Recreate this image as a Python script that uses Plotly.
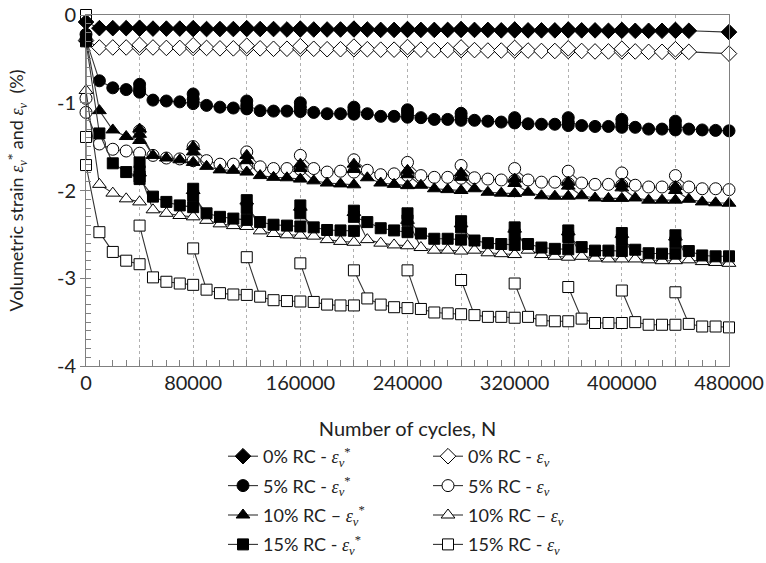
import plotly.graph_objects as go

# ---------------- data ----------------
# loading stages (start cycle of each 40000-cycle stage)
STAGE_START = [0, 40000, 80000, 120000, 160000, 200000, 240000,
               280000, 320000, 360000, 400000, 440000]
# readings inside each stage (cycles after stage start)
OFFSETS = [10000, 20000, 30000, 40000]
# Each stage list: values at the stage start (one or more), then the values at OFFSETS.
# None = no reading.

RC0_STAR = [
    [-0.08, -0.15, -0.15, -0.15, -0.155],
    [-0.145, -0.155, -0.155, -0.155, -0.16],
    [-0.15, -0.16, -0.16, -0.16, -0.16],
    [-0.15, -0.16, -0.16, -0.165, -0.165],
    [-0.155, -0.165, -0.165, -0.165, -0.165],
    [-0.155, -0.165, -0.17, -0.17, -0.17],
    [-0.16, -0.17, -0.17, -0.17, -0.17],
    [-0.16, -0.17, -0.17, -0.175, -0.175],
    [-0.165, -0.175, -0.175, -0.175, -0.175],
    [-0.165, -0.175, -0.175, -0.18, -0.18],
    [-0.17, -0.18, -0.18, -0.18, -0.18],
    [-0.17, -0.18, None, None, -0.195],
]
RC0_EV = [
    [-0.29, -0.37, -0.37, -0.37, -0.37],
    [-0.34, -0.37, -0.375, -0.375, -0.375],
    [-0.345, -0.375, -0.38, -0.38, -0.38],
    [-0.35, -0.38, -0.385, -0.385, -0.385],
    [-0.355, -0.385, -0.39, -0.39, -0.39],
    [-0.36, -0.39, -0.395, -0.395, -0.395],
    [-0.365, -0.395, -0.40, -0.40, -0.40],
    [-0.37, -0.40, -0.405, -0.405, -0.405],
    [-0.375, -0.405, -0.41, -0.41, -0.41],
    [-0.38, -0.41, -0.415, -0.415, -0.415],
    [-0.385, -0.415, -0.42, -0.42, -0.42],
    [-0.39, -0.42, None, None, -0.44],
]
RC5_STAR = [
    [-0.22, -0.28, -0.75, -0.83, -0.85, -0.88],
    [-0.79, -0.84, -0.97, -0.98, -0.99, -1.01],
    [-0.90, -0.96, -1.03, -1.05, -1.06, -1.07],
    [-0.98, -1.03, -1.09, -1.095, -1.095, -1.10],
    [-1.00, -1.05, -1.11, -1.125, -1.125, -1.13],
    [-1.05, -1.09, -1.125, -1.155, -1.155, -1.165],
    [-1.08, -1.12, -1.17, -1.19, -1.19, -1.20],
    [-1.12, -1.16, -1.20, -1.21, -1.22, -1.23],
    [-1.17, -1.21, -1.24, -1.245, -1.245, -1.26],
    [-1.17, -1.22, -1.26, -1.27, -1.27, -1.28],
    [-1.19, -1.24, -1.28, -1.30, -1.30, -1.31],
    [-1.21, -1.26, -1.30, -1.31, -1.315, -1.32],
]
RC5_EV = [
    [-0.95, -1.11, -1.47, -1.53, -1.55, -1.575],
    [-1.32, -1.60, -1.63, -1.64, -1.66],
    [-1.50, -1.66, -1.70, -1.70, -1.715],
    [-1.56, -1.73, -1.75, -1.75, -1.76],
    [-1.60, -1.75, -1.79, -1.78, -1.79],
    [-1.65, -1.77, -1.82, -1.81, -1.83],
    [-1.68, -1.83, -1.85, -1.85, -1.86],
    [-1.715, -1.855, -1.87, -1.88, -1.885],
    [-1.75, -1.88, -1.905, -1.905, -1.92],
    [-1.78, -1.915, -1.93, -1.93, -1.94],
    [-1.80, -1.94, -1.96, -1.96, -1.965],
    [-1.83, -1.96, -1.98, -1.98, -1.99],
]
RC10_STAR = [
    [-0.27, -1.09, -1.31, -1.385, -1.43],
    [-1.30, -1.36, -1.60, -1.63, -1.65, -1.68],
    [-1.50, -1.56, -1.725, -1.765, -1.77, -1.79],
    [-1.60, -1.66, -1.83, -1.85, -1.855, -1.87],
    [-1.70, -1.75, -1.89, -1.915, -1.925, -1.935],
    [-1.70, -1.76, -1.855, -1.915, -1.93, -1.945],
    [-1.77, -1.82, -1.94, -1.98, -1.99, -2.00],
    [-1.80, -1.85, -1.98, -2.02, -2.03, -2.035],
    [-1.87, -1.92, -2.02, -2.06, -2.065, -2.065],
    [-1.905, -1.95, -2.06, -2.085, -2.09, -2.09],
    [-1.925, -1.97, -2.085, -2.11, -2.11, -2.11],
    [-1.955, -2.00, -2.10, -2.13, -2.14, -2.145],
]
RC10_EV = [
    [-0.86, -1.93, -2.03, -2.095, -2.13],
    [-1.80, -2.22, -2.26, -2.285, -2.30],
    [-2.00, -2.34, -2.38, -2.40, -2.41],
    [-2.12, -2.46, -2.49, -2.505, -2.51],
    [-2.19, -2.52, -2.56, -2.58, -2.59],
    [-2.25, -2.56, -2.60, -2.62, -2.63],
    [-2.34, -2.65, -2.68, -2.68, -2.69],
    [-2.38, -2.68, -2.71, -2.72, -2.73],
    [-2.44, -2.68, -2.73, -2.75, -2.76],
    [-2.47, -2.75, -2.77, -2.78, -2.78],
    [-2.50, -2.78, -2.79, -2.80, -2.80],
    [-2.53, -2.79, -2.81, -2.82, -2.83],
]
RC15_STAR = [
    [-0.30, -1.35, -1.69, -1.79, -1.84],
    [-1.68, -1.78, -1.87, -2.07, -2.13, -2.17, -2.19],
    [-1.98, -2.06, -2.26, -2.30, -2.32, -2.335],
    [-2.11, -2.20, -2.36, -2.39, -2.40, -2.41],
    [-2.17, -2.26, -2.42, -2.45, -2.455, -2.46],
    [-2.23, -2.30, -2.36, -2.43, -2.455, -2.475],
    [-2.26, -2.34, -2.49, -2.55, -2.55, -2.56],
    [-2.35, -2.42, -2.57, -2.60, -2.61, -2.62],
    [-2.42, -2.50, -2.61, -2.65, -2.665, -2.67],
    [-2.455, -2.53, -2.645, -2.685, -2.685, -2.69],
    [-2.485, -2.56, -2.675, -2.715, -2.72, -2.72],
    [-2.51, -2.59, -2.69, -2.74, -2.75, -2.75],
]
RC15_EV = [
    [0.0, -1.39, -1.71, -2.475, -2.70, -2.80, -2.84],
    [-2.40, -2.99, -3.04, -3.06, -3.075],
    [-2.66, -3.13, -3.17, -3.185, -3.19],
    [-2.76, -3.21, -3.25, -3.26, -3.265],
    [-2.83, -3.27, -3.30, -3.31, -3.31],
    [-2.91, -3.23, -3.30, -3.33, -3.34],
    [-2.91, -3.35, -3.39, -3.40, -3.41],
    [-3.02, -3.42, -3.44, -3.44, -3.45],
    [-3.06, -3.44, -3.48, -3.49, -3.49],
    [-3.10, -3.46, -3.51, -3.51, -3.51],
    [-3.14, -3.50, -3.53, -3.53, -3.53],
    [-3.16, -3.52, -3.55, -3.55, -3.56],
]

X_TICKS = [0, 40000, 80000, 120000, 160000, 200000, 240000,
           280000, 320000, 360000, 400000, 440000, 480000]
X_TICK_TEXT = ["0", "", "80000", "", "160000", "", "240000",
               "", "320000", "", "400000", "", "480000"]
Y_TICKS = [0, -1, -2, -3, -4]
Y_TICK_TEXT = ["0", "-1", "-2", "-3", "-4"]

EPS = "<span style=\"font-family:'Liberation Serif'\"><i>ε<sub>v</sub></i></span>"
EPS_STAR = "<span style=\"font-family:'Liberation Serif'\"><i>ε<sub>v</sub></i><sup>*</sup></span>"

# drawing order: open (ε_v) series first, filled (ε_v*) series on top
SERIES = [
    # name, data, symbol, filled, legend, rank
    ("0% RC - " + EPS, RC0_EV, "diamond", False, "legend2", 1),
    ("5% RC - " + EPS, RC5_EV, "circle", False, "legend2", 2),
    ("10% RC – " + EPS, RC10_EV, "triangle-up", False, "legend2", 3),
    ("15% RC - " + EPS, RC15_EV, "square", False, "legend2", 4),
    ("0% RC - " + EPS_STAR, RC0_STAR, "diamond", True, "legend", 1),
    ("5% RC - " + EPS_STAR, RC5_STAR, "circle", True, "legend", 2),
    ("10% RC – " + EPS_STAR, RC10_STAR, "triangle-up", True, "legend", 3),
    ("15% RC - " + EPS_STAR, RC15_STAR, "square", True, "legend", 4),
]

SIZES = {"diamond": 12, "circle": 12, "triangle-up": 12, "square": 11}


def build(stages):
    xs, ys = [], []
    for start, vals in zip(STAGE_START, stages):
        ncl = len(vals) - len(OFFSETS)
        pts = [(start, v) for v in vals[:ncl]]
        pts += [(start + o, v) for o, v in zip(OFFSETS, vals[ncl:])]
        for x, y in pts:
            if y is not None:
                xs.append(x)
                ys.append(y)
        xs.append(None)
        ys.append(None)
    return xs, ys


fig = go.Figure()
for i, (name, data, sym, filled, leg, rank) in enumerate(SERIES):
    xs, ys = build(data)
    fig.add_trace(go.Scatter(
        x=xs, y=ys, name=name, mode="lines+markers",
        line=dict(color="#333333", width=1.1),
        marker=dict(symbol=sym, size=SIZES[sym],
                    color="#000000" if filled else "#ffffff",
                    line=dict(color="#000000", width=1)),
        cliponaxis=False, legend=leg, legendrank=rank,
        legendgroup="g%d" % i,
    ))

FONT = "Lato, 'DejaVu Sans', sans-serif"
AX = "#808080"

# paper spans the whole height below the top margin; the plot sits in the upper part
PLOT_DOMAIN_Y = [(563 - 366) / 548, 1]

LEG = dict(y=0, xanchor="left", yanchor="bottom", bgcolor="rgba(0,0,0,0)",
           traceorder="grouped", tracegroupgap=3, font=dict(size=18))

fig.update_layout(
    width=766, height=563,
    margin=dict(l=86, r=37, t=15, b=0),
    paper_bgcolor="white", plot_bgcolor="white",
    font=dict(family=FONT, size=19, color="#222222"),
    showlegend=True,
    legend=dict(LEG, x=(223 - 86) / 643),
    legend2=dict(LEG, x=(428 - 86) / 643),
    xaxis=dict(
        range=[0, 480000], tickvals=X_TICKS, ticktext=X_TICK_TEXT,
        automargin=False, ticklabelstandoff=-1,
        showgrid=True, gridcolor="#b0b0b0", griddash="dot", gridwidth=1,
        ticks="inside", ticklen=6, tickcolor=AX,
        minor=dict(dtick=10000, tick0=0, ticks="inside", ticklen=6,
                   tickcolor=AX, showgrid=False),
        showline=True, linecolor=AX, linewidth=1, mirror=True,
        zeroline=False,
        title=dict(text="Number of cycles, N", font=dict(size=20), standoff=28),
        tickfont=dict(size=20),
    ),
    yaxis=dict(
        domain=PLOT_DOMAIN_Y,
        range=[-4, 0], tickvals=Y_TICKS, ticktext=Y_TICK_TEXT,
        automargin=False,
        showgrid=False, ticks="outside", ticklen=5, tickcolor=AX,
        minor=dict(dtick=0.1, tick0=0, ticks="inside", ticklen=5,
                   tickcolor=AX, showgrid=False),
        showline=True, linecolor=AX, linewidth=1, mirror=True,
        zeroline=False,
        title=dict(text="Volumetric strain " + EPS_STAR + " and " + EPS + "  (%)",
                   font=dict(size=18), standoff=28),
        tickfont=dict(size=20),
    ),
)

fig.write_html("out.html")
